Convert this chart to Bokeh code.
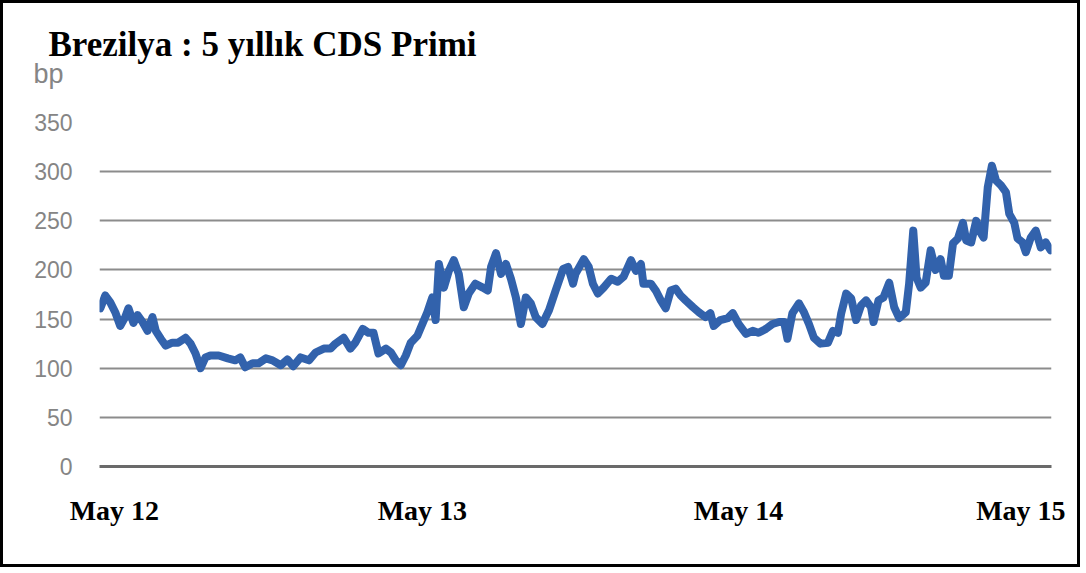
from bokeh.plotting import figure
from bokeh.models import Range1d, FixedTicker, Title
from bokeh.embed import file_html
from bokeh.resources import INLINE

# days since mid-April 2012
days = [1, 7, 13, 19, 25, 31, 35, 41, 46, 52, 58, 64, 68, 74, 80, 88, 95, 104, 110, 116,
        122, 128, 134, 144, 155, 164, 170, 176, 185, 192, 201, 209, 219, 227, 234, 243, 253, 261, 271, 279,
        285, 295, 303, 309, 318, 325, 331, 337, 346, 352, 358, 364, 370, 376, 384, 390, 396, 402, 406, 410,
        416, 422, 428, 434, 440, 446, 454, 463, 469, 473, 479, 485, 491, 497, 503, 509, 515, 521, 527, 535,
        543, 551, 560, 566, 572, 575, 585, 591, 596, 602, 609, 618, 626, 633, 642, 648, 654, 657, 666, 672,
        678, 684, 690, 696, 702, 708, 717, 724, 732, 738, 742, 750, 759, 765, 772, 781, 789, 796, 805, 813,
        821, 827, 831, 837, 845, 851, 857, 863, 871, 880, 886, 892, 896, 902, 908, 914, 920, 926, 932, 935,
        941, 947, 954, 960, 966, 974, 978, 983, 987, 992, 998, 1004, 1010, 1016, 1020, 1026, 1031, 1037, 1043, 1047,
        1053, 1059, 1065, 1068, 1073, 1078, 1083, 1089, 1095, 1099, 1105, 1109, 1115, 1119, 1125, 1131, 1137, 1143, 1149]
cds = [161, 174, 167, 157, 143, 152, 161, 146, 154, 147, 138, 152, 138, 130, 123, 126, 126, 131, 125, 115,
       100, 111, 113, 113, 110, 108, 111, 101, 105, 105, 110, 108, 103, 109, 102, 111, 108, 116, 120, 120,
       125, 131, 120, 126, 140, 136, 136, 115, 120, 116, 108, 103, 113, 126, 133, 145, 157, 172, 149, 206,
       182, 199, 210, 196, 162, 176, 186, 182, 179, 203, 217, 196, 206, 191, 172, 145, 172, 166, 152, 145,
       159, 179, 201, 203, 186, 196, 211, 203, 186, 176, 182, 191, 188, 193, 210, 199, 206, 186, 186, 179,
       169, 161, 179, 181, 174, 169, 162, 157, 152, 156, 143, 149, 151, 156, 145, 135, 138, 136, 140, 145,
       147, 147, 130, 156, 166, 157, 145, 131, 125, 126, 138, 136, 156, 176, 171, 149, 164, 169, 162, 147,
       169, 172, 187, 162, 151, 157, 186, 240, 192, 182, 187, 220, 200, 211, 194, 194, 227, 232, 248, 230,
       228, 250, 237, 233, 284, 306, 291, 286, 279, 257, 248, 232, 228, 218, 233, 240, 223, 228, 220]

y_ticks = [0, 50, 100, 150, 200, 250, 300, 350]
x_tick_days = [18, 390, 772, 1113]
x_tick_labels = ["May 12", "May 13", "May 14", "May 15"]

p = figure(width=1080, height=567, output_backend="svg", toolbar_location=None,
           x_range=Range1d(0, 1150), y_range=Range1d(0, 350),
           min_border_left=96, min_border_right=32, min_border_top=119, min_border_bottom=104)
p.styles = {"border": "3px solid black"}
p.outline_line_color = None
p.background_fill_color = "white"
p.border_fill_color = "white"

p.line(days, cds, line_color="#3262AC", line_width=8, line_join="round", line_cap="round")

p.yaxis.ticker = FixedTicker(ticks=y_ticks)
p.yaxis.axis_line_color = None
p.yaxis.major_tick_line_color = None
p.yaxis.minor_tick_line_color = None
p.yaxis.major_label_text_font = "Liberation Sans"
p.yaxis.major_label_text_font_size = "23px"
p.yaxis.major_label_text_color = "#858585"
p.yaxis.major_label_standoff = 21

p.xaxis.ticker = FixedTicker(ticks=x_tick_days)
p.xaxis.major_label_overrides = {d: t for d, t in zip(x_tick_days, x_tick_labels)}
p.xaxis.axis_line_color = "#6a6a6a"
p.xaxis.axis_line_width = 3
p.xaxis.major_tick_line_color = None
p.xaxis.minor_tick_line_color = None
p.xaxis.major_label_text_font = "Liberation Serif"
p.xaxis.major_label_text_font_style = "bold"
p.xaxis.major_label_text_font_size = "28px"
p.xaxis.major_label_text_color = "black"
p.xaxis.major_label_standoff = 22

p.xgrid.grid_line_color = None
p.ygrid.ticker = FixedTicker(ticks=y_ticks)
p.ygrid.grid_line_color = "#8c8c8c"
p.ygrid.grid_line_width = 2

bp = Title(text="bp", align="left", offset=-66, standoff=68, text_font="Liberation Sans",
           text_font_size="27px", text_font_style="normal", text_color="#858585")
main_title = Title(text="Brezilya : 5 yıllık CDS Primi", align="left", offset=-51, standoff=-83,
                   text_font="Liberation Serif", text_font_style="bold", text_font_size="35px",
                   text_color="black")
p.add_layout(bp, "above")
p.add_layout(main_title, "above")

open("out.html", "w").write(file_html(p, INLINE))
